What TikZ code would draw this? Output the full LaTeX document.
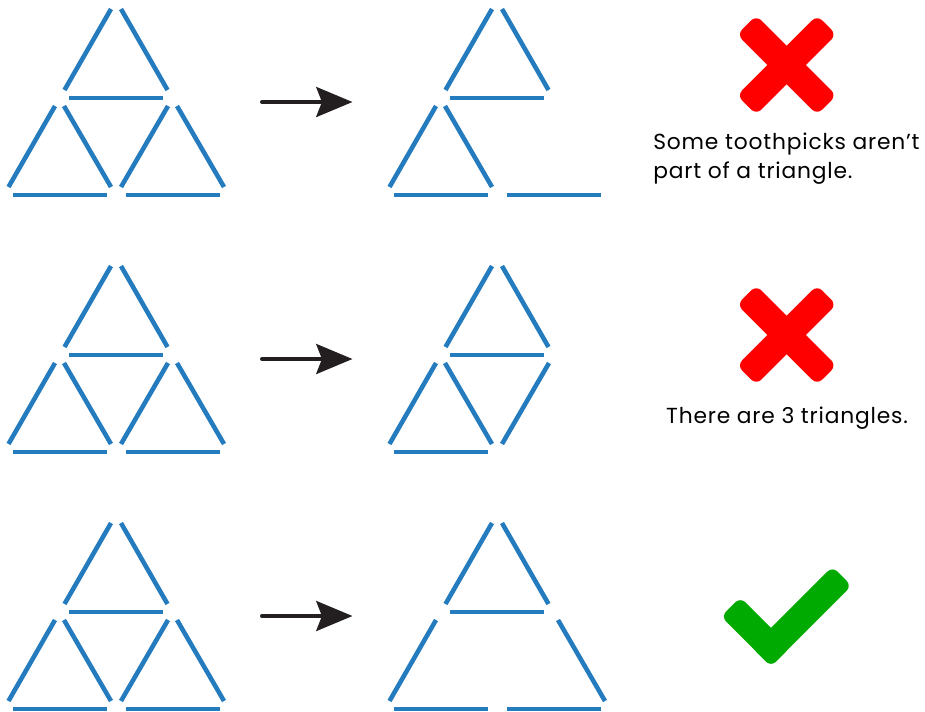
\documentclass[tikz,border=0pt]{standalone}
\usepackage{fontspec}
\setmainfont[LetterSpace=3.7]{Poppins}
\usetikzlibrary{arrows.meta}

\definecolor{stickblue}{RGB}{36,124,190}
\definecolor{arrowblack}{RGB}{35,31,32}
\definecolor{crossred}{RGB}{255,0,0}
\definecolor{checkgreen}{RGB}{0,170,0}

\tikzset{
	stick/.style={line width=2.6pt, color=stickblue},
	bigarrow/.style={line width=2.3pt, color=arrowblack, line cap=round,
		-{Stealth[length=20.6pt, width=17pt, inset=3.2pt]}},
	caption/.style={font=\fontsize{12.4}{16.4}\selectfont, color=black, inner sep=0pt},
	crossmark/.style={fill=crossred, rounded corners=4pt},
	checkmark/.style={fill=checkgreen, rounded corners=4pt}
}

% Спички треугольника
\newcommand{\stickTopL}{\draw[stick] (111, 9) -- (64.5, 90);}
\newcommand{\stickTopR}{\draw[stick] (121, 9) -- (167.5, 90);}
\newcommand{\stickTopB}{\draw[stick] (69, 98) -- (163, 98);}
\newcommand{\stickLeftL}{\draw[stick] (55, 106) -- (8.5, 187);}
\newcommand{\stickLeftR}{\draw[stick] (64, 106) -- (111, 187);}
\newcommand{\stickLeftB}{\draw[stick] (13, 195) -- (107, 195);}
\newcommand{\stickRightL}{\draw[stick] (168, 106) -- (121, 187);}
\newcommand{\stickRightR}{\draw[stick] (177, 106) -- (224, 187);}
\newcommand{\stickRightB}{\draw[stick] (126, 195) -- (220, 195);}
\newcommand{\stickTop}{\stickTopL \stickTopR \stickTopB}
\newcommand{\stickLeft}{\stickLeftL \stickLeftR \stickLeftB}
\newcommand{\stickRight}{\stickRightL \stickRightR \stickRightB}

\begin{document}
\begin{tikzpicture}[x=0.02cm, y=-0.02cm]
	\useasboundingbox (0, 0) rectangle (925, 711);
	
	% Исходные фигуры и стрелки
	\foreach \row in {0, 1, 2} {
		\begin{scope}[shift={(0, 257*\row)}]
			\stickTop \stickLeft \stickRight
			\coordinate (arrowstart) at (262, 102);
			\coordinate (arrowend) at (352.5, 102);
			\draw[bigarrow] (arrowstart) -- (arrowend);
		\end{scope}
	}
	
	% Первая строка
	\begin{scope}[shift={(381, 0)}]
		\stickTop \stickLeft \stickRightB
	\end{scope}
	
	% Вторая строка
	\begin{scope}[shift={(381, 257)}]
		\stickTop \stickLeft \stickRightL
	\end{scope}
	
	% Третья строка
	\begin{scope}[shift={(381, 514)}]
		\stickTop \stickLeftL \stickLeftB \stickRightR \stickRightB
	\end{scope}
	
	% Крестики
	\foreach \y in {65, 335} {
		\begin{scope}[shift={(786.7, \y)}]
			\fill[crossmark, rotate=45] (-56.6, -13.6) rectangle (56.6, 13.6);
			\fill[crossmark, rotate=-45] (-56.6, -13.6) rectangle (56.6, 13.6);
		\end{scope}
	}
	
	% Галочка
	\begin{scope}[shift={(755.7, 631.9)}]
		\fill[checkmark, rotate=-45] (-35.4, -13.6) rectangle (35.4, 13.6);
	\end{scope}
	\begin{scope}[shift={(801.65, 616.55)}]
		\fill[checkmark, rotate=45] (-57.1, -13.6) rectangle (57.1, 13.6);
	\end{scope}
	
	\node[caption, anchor=west, align=left] (firstnote) at (653, 158.5) {Some toothpicks aren’t\\part of a triangle.};
	\node[caption, anchor=base] (secondnote) at (787, 423) {There are 3 triangles.};
\end{tikzpicture}
\end{document}
